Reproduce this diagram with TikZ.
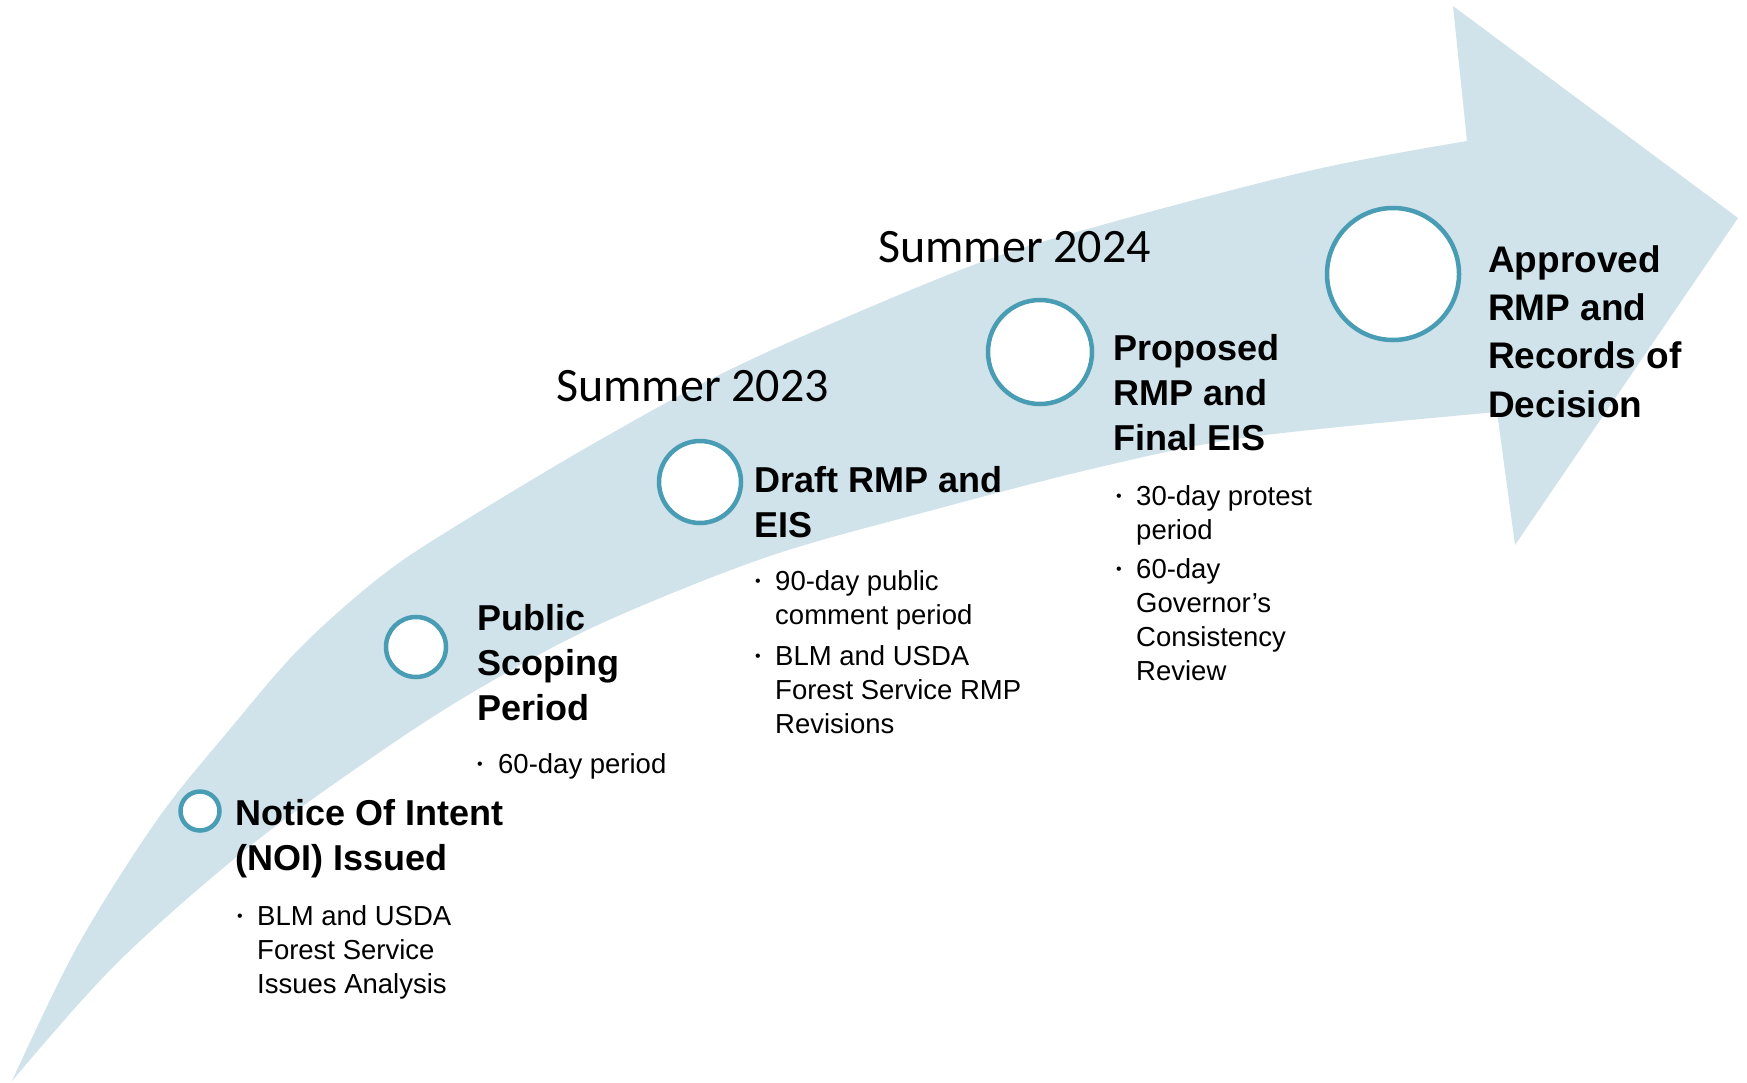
\documentclass[tikz,border=0pt]{standalone}
\usepackage{fontspec}
\setmainfont{Liberation Sans}
\newfontfamily\calfont{Carlito}
\definecolor{arrowblue}{RGB}{208,226,234}
\definecolor{ringblue}{RGB}{72,156,180}
\begin{document}
\begin{tikzpicture}[x=1pt,y=-1pt,
  arrowfill/.style={fill=arrowblue},
  ringnode/.style={circle, draw=ringblue, line width=4.5pt, fill=white, inner sep=0pt},
  ttl/.style={anchor=base west, align=left, inner sep=0pt, font=\fontsize{36}{45}\selectfont\bfseries},
  bodytxt/.style={anchor=base west, align=left, inner sep=0pt, font=\fontsize{27.5}{34}\selectfont},
  bullt/.style={anchor=base west, inner sep=0pt, font=\fontsize{16}{16}\selectfont},
  seasontxt/.style={anchor=base west, inner sep=0pt, font=\calfont\fontsize{48}{48}\selectfont}]
\useasboundingbox (0,0) rectangle (1747,1082);
% big curved arrow
\fill[arrowfill] plot[smooth, tension=0.55] coordinates {(12,1081) (77,947) (157,820) (230,729) (300,648) (380,577) (456,526) (605,437) (750,360) (968,267) (1102,225) (1313,170) (1467,141)}
  -- (1453,6) -- (1738,218) -- (1515,545) -- (1497,412)
  -- plot[smooth, tension=0.55] coordinates {(1497,412) (1250,437) (1100,467) (933,510) (767,557) (600,624) (480,688) (380,752) (250,846) (117,963) (12,1081)} -- cycle;
% rings
\node[ringnode, minimum size=39pt] (c1) at (200,811) {};
\node[ringnode, minimum size=60pt] (c2) at (416,647) {};
\node[ringnode, minimum size=82pt] (c3) at (700,482) {};
\node[ringnode, minimum size=104pt] (c4) at (1040,352) {};
\node[ringnode, minimum size=132pt] (c5) at (1393,274) {};
% seasons
\node[seasontxt] (s1) at (556,401) {Summer 2023};
\node[seasontxt] (s2) at (878,262) {Summer 2024};
% step 1 (base anchor = baseline of last line)
\node[ttl] (t1) at (235,870) {Notice Of Intent\\(NOI) Issued};
\node[bullt] (b1d) at (237,921) {•};
\node[bodytxt] (b1) at (257,993) {BLM and USDA\\Forest Service\\Issues Analysis};
% step 2
\node[ttl] (t2) at (477,720) {Public\\Scoping\\Period};
\node[bullt] (b2d) at (477,769) {•};
\node[bodytxt] (b2) at (498,773) {60-day period};
% step 3
\node[ttl] (t3) at (754,537) {Draft RMP and\\EIS};
\node[bullt] (b3ad) at (755,586) {•};
\node[bodytxt] (b3a) at (775,624) {90-day public\\comment period};
\node[bullt] (b3bd) at (755,661) {•};
\node[bodytxt] (b3b) at (775,733) {BLM and USDA\\Forest Service RMP\\Revisions};
% step 4
\node[ttl] (t4) at (1113,450) {Proposed\\RMP and\\Final EIS};
\node[bullt] (b4ad) at (1116,501) {•};
\node[bodytxt] (b4a) at (1136,539) {30-day protest\\period};
\node[bullt] (b4bd) at (1116,574) {•};
\node[bodytxt] (b4b) at (1136,680) {60-day\\Governor’s\\Consistency\\Review};
% step 5
\node[ttl, font=\fontsize{37}{48.3}\selectfont\bfseries] (t5) at (1488,417) {Approved\\RMP and\\Records of\\Decision};
\end{tikzpicture}
\end{document}
